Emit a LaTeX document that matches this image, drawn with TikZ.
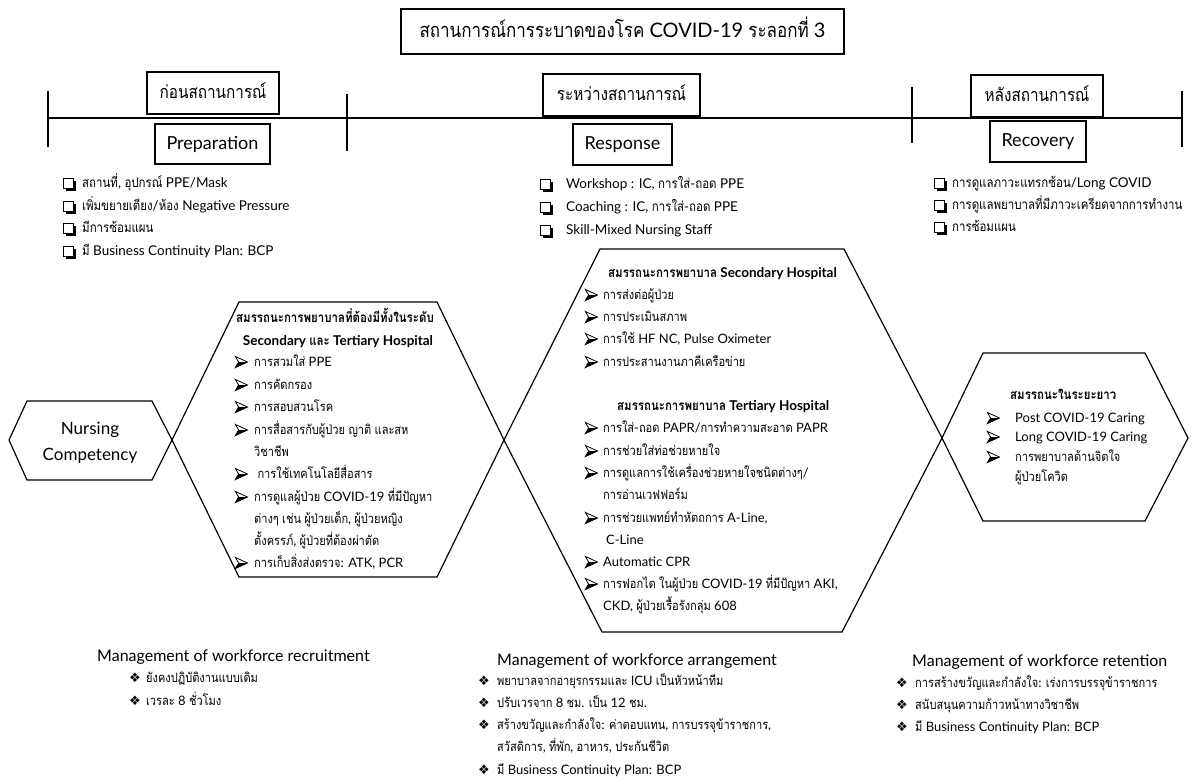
\documentclass[tikz,border=0pt]{standalone}
\usepackage{fontspec}
\setmainfont{Lato}
\newfontfamily\latinf{Lato}[NFSSFamily=latinmain]
\newfontfamily\thaif{Loma}[Script=Thai, FakeStretch=0.85, NFSSFamily=lomathai]
\newfontfamily\symfont{DejaVu Sans}
% automatic switch: Thai characters in Loma, the rest in Lato
\XeTeXinterchartokenstate=1
\newXeTeXintercharclass\ThaiCls
\newcount\tmpc
\tmpc="0E00
\loop
  \XeTeXcharclass\tmpc=\ThaiCls
  \advance\tmpc by 1
\ifnum\tmpc<"0E80 \repeat
\newcommand\swThai{\fontfamily{lomathai}\selectfont}
\newcommand\swLatin{\fontfamily{latinmain}\selectfont}
\XeTeXinterchartoks 0 \ThaiCls = {\swThai}
\XeTeXinterchartoks 4095 \ThaiCls = {\swThai}
\XeTeXinterchartoks \ThaiCls 0 = {\swLatin}
\XeTeXinterchartoks \ThaiCls 4095 = {\swLatin}
\newcommand\dmd{{\symfont\fontsize{13}{13}\selectfont\char"2756}}
\tikzset{
  bx/.style={draw, line width=1.3pt, inner sep=0pt, align=center,
    font=\fontsize{18}{20}\selectfont, text height=11pt, text depth=1pt},
  tx/.style={anchor=west, inner sep=0pt, text height=9pt, text depth=0pt,
    font=\fontsize{13}{15}\selectfont},
  tb/.style={tx, font=\bfseries\fontsize{13.5}{15}\selectfont},
  ck/.style={tx, font=\fontsize{13.5}{15}\selectfont},
  hd/.style={tx, font=\fontsize{16}{19}\selectfont, text height=12pt},
  sy/.style={anchor=west, inner sep=0pt, text height=9pt, text depth=0pt},
  hx/.style={line width=1.2pt, line join=miter},
  tk/.style={line width=1.2pt},
  chkbox/.pic={
    \fill (2.6,-2.4) rectangle (12.6,7.6);
    \filldraw[fill=white, line width=0.9pt] (0,-5) rectangle (10,5);
  },
  arrowhd/.pic={
    \fill (3.6,0) -- (12.5,0) -- (0.3,5.6) -- cycle;
    \draw[line width=0.8pt, line join=miter] (0.3,-5.6) -- (12.5,0) -- (0.3,5.6) -- (3.6,0) -- cycle;
  },
}
\begin{document}
\begin{tikzpicture}[x=1pt,y=-1pt]
\useasboundingbox (0,0) rectangle (1198,780);

% title
\node[bx, font=\fontsize{20}{22}\selectfont, minimum width=443pt, minimum height=45pt, text height=13pt, text depth=1pt]
  (title) at (622.5,31.5) {สถานการณ์การระบาดของโรค COVID-19 ระลอกที่ 3};

% timeline
\coordinate (t0) at (48,118); \coordinate (t1) at (1182,118);
\draw[tk] (t0) -- (t1);
\coordinate (k1a) at (48,91);   \coordinate (k1b) at (48,147);
\coordinate (k2a) at (347,94);  \coordinate (k2b) at (347,151);
\coordinate (k3a) at (912,87);  \coordinate (k3b) at (912,143);
\coordinate (k4a) at (1182,91); \coordinate (k4b) at (1182,147);
\draw[tk] (k1a) -- (k1b); \draw[tk] (k2a) -- (k2b);
\draw[tk] (k3a) -- (k3b); \draw[tk] (k4a) -- (k4b);

% phase boxes
\node[bx, minimum width=132pt, minimum height=42pt, fill=white] (pre) at (213,93) {ก่อนสถานการณ์};
\node[bx, minimum width=115pt, minimum height=40pt] (prep) at (212.5,144) {Preparation};
\node[bx, minimum width=157pt, minimum height=42pt, fill=white] (dur) at (621.5,95) {ระหว่างสถานการณ์};
\node[bx, minimum width=99pt, minimum height=41pt] (resp) at (622.5,144.5) {Response};
\node[bx, minimum width=132pt, minimum height=42pt, fill=white] (post) at (1037,96) {หลังสถานการณ์};
\node[bx, minimum width=96pt, minimum height=41pt] (reco) at (1038,141.5) {Recovery};

% checklists
\foreach \y/\t [count=\i] in {183/{สถานที่, อุปกรณ์ PPE/Mask},206/{เพิ่มขยายเตียง/ห้อง Negative Pressure},228/{มีการซ้อมแผน},251/{มี Business Continuity Plan: BCP}}{
  \pic at (63,\y) {chkbox};
  \node[ck] (lt\i) at (82,\y) {\t};
}
\foreach \y/\t [count=\i] in {184/{Workshop : IC, การใส่-ถอด PPE},207/{Coaching : IC, การใส่-ถอด PPE},230/{Skill-Mixed Nursing Staff}}{
  \pic at (540,\y) {chkbox};
  \node[ck] (mt\i) at (566,\y) {\t};
}
\foreach \y/\t [count=\i] in {183/{การดูแลภาวะแทรกซ้อน/Long COVID},205/{การดูแลพยาบาลที่มีภาวะเครียดจากการทำงาน},227/{การซ้อมแผน}}{
  \pic at (934,\y) {chkbox};
  \node[ck] (rt\i) at (952,\y) {\t};
}

% hexagons
\draw[hx] (9,440) -- (27,401) -- (152,401) -- (172,440) -- (152,480) -- (27,480) -- cycle;
\draw[hx] (172,440) -- (239,302) -- (437,302) -- (504,440) -- (437,577) -- (239,577) -- cycle;
\draw[hx] (504,440) -- (600,249) -- (844,249) -- (942,438) -- (842,632) -- (602,632) -- cycle;
\draw[hx] (942,438) -- (983,353) -- (1145,353) -- (1188,438) -- (1145,521) -- (983,521) -- cycle;

% nursing competency
\node[align=center, inner sep=0pt, font=\fontsize{17}{26}\selectfont] (nc) at (90,443) {Nursing\\Competency};

% left big hex text
\node[tb] (lh0) at (236,318) {สมรรถนะการพยาบาลที่ต้องมีทั้งในระดับ};
\node[tb, anchor=center] (lh1) at (338,341) {Secondary และ Tertiary Hospital};
\foreach \y/\t [count=\i] in {362/{การสวมใส่ PPE},385/{การคัดกรอง},407/{การสอบสวนโรค},430/{การสื่อสารกับผู้ป่วย ญาติ และสห},474/{\ การใช้เทคโนโลยีสื่อสาร},497/{การดูแลผู้ป่วย COVID-19 ที่มีปัญหา},563/{การเก็บสิ่งส่งตรวจ: ATK, PCR}}{
  \pic at (235,\y) {arrowhd};
  \node[tx] (lb\i) at (254,\y) {\t};
}
\node[tx] (lc5) at (254,452) {วิชาชีพ};
\node[tx] (lc6) at (254,519) {ต่างๆ เช่น ผู้ป่วยเด็ก, ผู้ป่วยหญิง};
\node[tx] (lc7) at (254,541) {ตั้งครรภ์, ผู้ป่วยที่ต้องผ่าตัด};

% middle hex text
\node[tb] (mh0) at (608,273) {สมรรถนะการพยาบาล Secondary Hospital};
\foreach \y/\t [count=\i] in {295/{การส่งต่อผู้ป่วย},317/{การประเมินสภาพ},339/{การใช้ HF NC, Pulse Oximeter},362/{การประสานงานภาคีเครือข่าย}}{
  \pic at (585,\y) {arrowhd};
  \node[tx] (mb\i) at (603,\y) {\t};
}
\node[tb] (mh1) at (617,406) {สมรรถนะการพยาบาล Tertiary Hospital};
\foreach \y/\t [count=\i] in {428/{การใส่-ถอด PAPR/การทำความสะอาด PAPR},451/{การช่วยใส่ท่อช่วยหายใจ},473/{การดูแลการใช้เครื่องช่วยหายใจชนิดต่างๆ/},518/{การช่วยแพทย์ทำหัตถการ A-Line,},562/{Automatic CPR},584/{การฟอกไต ในผู้ป่วย COVID-19 ที่มีปัญหา AKI,}}{
  \pic at (585,\y) {arrowhd};
  \node[tx] (md\i) at (603,\y) {\t};
}
\node[tx] (me1) at (603,495) {การอ่านเวฟฟอร์ม};
\node[tx] (me2) at (606,540) {C-Line};
\node[tx] (me3) at (603,606) {CKD, ผู้ป่วยเรื้อรังกลุ่ม 608};

% right hex text
\node[tb] (rh0) at (1010,395) {สมรรถนะในระยะยาว};
\foreach \y/\t [count=\i] in {418/{Post COVID-19 Caring},437/{Long COVID-19 Caring},457/{การพยาบาลด้านจิตใจ}}{
  \pic at (987,\y) {arrowhd};
  \node[tx] (rb\i) at (1015,\y) {\t};
}
\node[tx] (rb4) at (1015,477) {ผู้ป่วยโควิด};

% bottom left
\node[hd] (bl0) at (97,655) {Management of workforce recruitment};
\foreach \y/\t [count=\i] in {678/{ยังคงปฏิบัติงานแบบเดิม},701/{เวรละ 8 ชั่วโมง}}{
  \node[sy] (bla\i) at (129,\y) {\dmd};
  \node[tx] (blb\i) at (146,\y) {\t};
}
% bottom middle
\node[hd] (bm0) at (497,659) {Management of workforce arrangement};
\foreach \y/\t [count=\i] in {681/{พยาบาลจากอายุรกรรมและ ICU เป็นหัวหน้าทีม},703/{ปรับเวรจาก 8 ชม. เป็น 12 ชม.},725/{สร้างขวัญและกำลังใจ: ค่าตอบแทน, การบรรจุข้าราชการ,},770/{มี Business Continuity Plan: BCP}}{
  \node[sy] (bma\i) at (478,\y) {\dmd};
  \node[tx] (bmb\i) at (497,\y) {\t};
}
\node[tx] (bmc) at (497,747) {สวัสดิการ, ที่พัก, อาหาร, ประกันชีวิต};
% bottom right
\node[hd] (br0) at (912,660) {Management of workforce retention};
\foreach \y/\t [count=\i] in {683/{การสร้างขวัญและกำลังใจ: เร่งการบรรจุข้าราชการ},705/{สนับสนุนความก้าวหน้าทางวิชาชีพ},727/{มี Business Continuity Plan: BCP}}{
  \node[sy] (bra\i) at (896,\y) {\dmd};
  \node[tx] (brb\i) at (915,\y) {\t};
}
\end{tikzpicture}
\end{document}
